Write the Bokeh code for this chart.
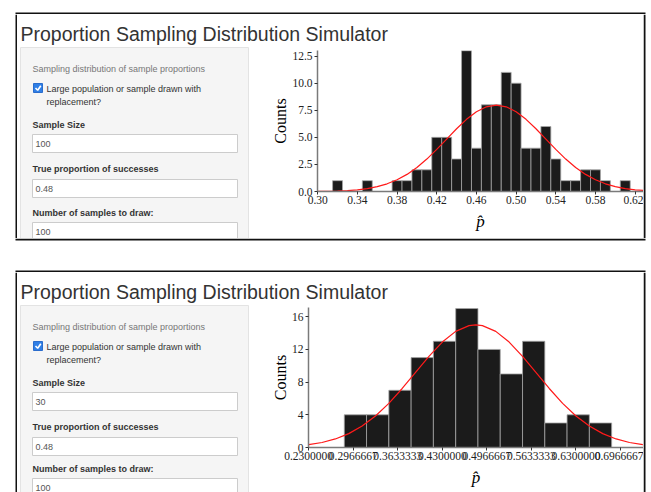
from bokeh.plotting import figure
from bokeh.layouts import column, row
from bokeh.models import Range1d, FixedTicker
from bokeh.embed import file_html
from bokeh.resources import INLINE
from bokeh.core.properties import value

# ---------------- texts ----------------
TITLE = "Proportion Sampling Distribution Simulator"
sidebar_heading = "Sampling distribution of sample proportions"
checkbox_lines = ["Large population or sample drawn with", "replacement?"]
field_labels = ["Sample Size", "True proportion of successes", "Number of samples to draw:"]
top_inputs = ["100", "0.48", "100"]
bottom_inputs = ["30", "0.48", "100"]

# ---------------- top histogram (n = 100) ----------------
top_centers = [0.32, 0.35, 0.38, 0.39, 0.40, 0.41, 0.42, 0.43, 0.44, 0.45, 0.46,
               0.47, 0.48, 0.49, 0.50, 0.51, 0.52, 0.53, 0.54, 0.55, 0.56, 0.57,
               0.58, 0.59, 0.60, 0.61]
top_counts = [1, 1, 1, 1, 2, 2, 5, 5, 3, 13, 4,
              8, 8, 11, 10, 4, 4, 6, 3, 1, 1, 2,
              2, 1, 0, 1]
top_bin_width = 0.01
top_curve_x = [0.30, 0.31, 0.32, 0.33, 0.34, 0.35, 0.36, 0.37, 0.38, 0.39, 0.40,
               0.41, 0.42, 0.43, 0.44, 0.45, 0.46, 0.47, 0.48, 0.49, 0.50, 0.51,
               0.52, 0.53, 0.54, 0.55, 0.56, 0.57, 0.58, 0.59, 0.60, 0.61, 0.62, 0.63]
top_curve_y = [0.012, 0.025, 0.048, 0.089, 0.158, 0.271, 0.448, 0.710, 1.080, 1.579, 2.218,
               2.995, 3.885, 4.840, 5.794, 6.666, 7.366, 7.822, 7.980, 7.822, 7.366, 6.666,
               5.794, 4.840, 3.885, 2.995, 2.218, 1.579, 1.080, 0.710, 0.448, 0.271, 0.158, 0.089]
top_xticks = [0.30, 0.34, 0.38, 0.42, 0.46, 0.50, 0.54, 0.58, 0.62]
top_xtick_labels = ["0.30", "0.34", "0.38", "0.42", "0.46", "0.50", "0.54", "0.58", "0.62"]
top_yticks = [0, 2.5, 5, 7.5, 10, 12.5]
top_ytick_labels = ["0.0", "2.5", "5.0", "7.5", "10.0", "12.5"]

# ---------------- bottom histogram (n = 30) ----------------
bot_centers = [0.3000, 0.3333, 0.3667, 0.4000, 0.4333, 0.4667,
               0.5000, 0.5333, 0.5667, 0.6000, 0.6333, 0.6667]
bot_counts = [4, 4, 7, 11, 13, 17, 12, 9, 13, 3, 4, 3]
bot_bin_width = 0.03333
bot_curve_x = [0.23, 0.25, 0.27, 0.29, 0.31, 0.33, 0.35, 0.37, 0.39, 0.41, 0.43, 0.45, 0.47,
               0.48, 0.49, 0.51, 0.53, 0.55, 0.57, 0.59, 0.61, 0.63, 0.65, 0.67, 0.69, 0.71, 0.73]
bot_curve_y = [0.345, 0.615, 1.046, 1.70, 2.62, 3.86, 5.40, 7.22, 9.20, 11.16, 12.90, 14.21, 14.91,
               15.0, 14.91, 14.21, 12.90, 11.16, 9.20, 7.22, 5.40, 3.86, 2.62, 1.70, 1.046, 0.615, 0.345]
bot_xticks = [0.23, 0.2966667, 0.3633333, 0.43, 0.4966667, 0.5633333, 0.63, 0.6966667]
bot_xtick_labels = ["0.2300000", "0.2966667", "0.3633333", "0.4300000",
                    "0.4966667", "0.5633333", "0.6300000", "0.6966667"]
bot_yticks = [0, 4, 8, 12, 16]
bot_ytick_labels = ["0", "4", "8", "12", "16"]

SANS = "Liberation Sans"
SERIF = "Liberation Serif"
BORDER = "#111111"


def bare(width, height):
    p = figure(width=width, height=height, x_range=Range1d(0, width),
               y_range=Range1d(height, 0), frame_align=False, title=None,
               output_backend="svg", toolbar_location=None, min_border=0)
    p.axis.visible = False
    p.grid.visible = False
    p.outline_line_color = None
    p.background_fill_color = "white"
    p.border_fill_color = "white"
    return p


def band(width, height, rects):
    """White strip carrying the black frame lines of the two screenshots."""
    p = bare(width, height)
    p.quad(left=[r[0] for r in rects], right=[r[1] for r in rects],
           top=[r[2] for r in rects], bottom=[r[3] for r in rects],
           fill_color=BORDER, line_color=None)
    return p


def make_title():
    p = bare(626, 32)
    p.text(x=[3], y=[19], text=[TITLE], text_font=value(SANS), text_font_size="19.5px",
           text_baseline="alphabetic", text_color="#333333")
    return p


def make_sidebar(h, inputs, last_shift=0):
    p = bare(243, h)
    p.quad(left=[3], right=[231], top=[1], bottom=[h + 10], fill_color="#f5f5f5",
           line_color="#e3e3e3", line_width=1)
    p.text(x=[15], y=[22], text=[sidebar_heading], text_font=value(SANS), text_font_size="9px",
           text_baseline="middle", text_color="#777777")
    # checkbox
    p.quad(left=[16], right=[25], top=[37], bottom=[46], fill_color="#2f7fe6", line_color="#2a6ccc")
    p.line(x=[18, 20.2, 23.3], y=[41.5, 43.8, 39.2], line_color="white", line_width=1.6)
    p.text(x=[29, 29], y=[42, 55], text=checkbox_lines, text_font=value(SANS), text_font_size="9px",
           text_baseline="middle", text_color="#333333")
    label_y = [78, 122, 166 - last_shift]
    box_top = [88, 133, 176 - last_shift]
    p.text(x=[15] * 3, y=label_y, text=field_labels, text_font=value(SANS), text_font_size="9px",
           text_font_style="bold", text_baseline="middle", text_color="#333333")
    p.quad(left=[15] * 3, right=[220] * 3, top=box_top, bottom=[t + 18 for t in box_top],
           fill_color="white", line_color="#cccccc", line_width=1)
    p.text(x=[18] * 3, y=[t + 9 for t in box_top], text=inputs, text_font=value(SANS),
           text_font_size="9px", text_baseline="middle", text_color="#555555")
    return p


def make_hist(h, centers, counts, bw, cx, cy, xr, yr, xticks, xlabels, yticks, ylabels,
              left, right, top, bottom):
    p = figure(width=383, height=h, x_range=Range1d(*xr), y_range=Range1d(*yr),
               frame_align=False, title=None, output_backend="svg", toolbar_location=None,
               min_border_left=left, min_border_right=right,
               min_border_top=top, min_border_bottom=bottom)
    p.grid.visible = False
    p.outline_line_color = None
    p.vbar(x=centers, top=counts, bottom=0, width=bw, fill_color="#1b1b1b",
           line_color="#a6a6a6", line_width=0.8)
    p.line(x=cx, y=cy, line_color="#ff1a1a", line_width=1.2)

    p.xaxis.ticker = FixedTicker(ticks=xticks)
    p.xaxis.major_label_overrides = dict(zip(xticks, xlabels))
    p.yaxis.ticker = FixedTicker(ticks=yticks)
    p.yaxis.major_label_overrides = dict(zip(yticks, ylabels))
    for ax in (p.xaxis[0], p.yaxis[0]):
        ax.axis_line_color = "#7a7a7a"
        ax.axis_line_width = 1.5
        ax.major_tick_line_color = "#333333"
        ax.major_tick_out = 3
        ax.major_tick_in = 0
        ax.minor_tick_line_color = None
        ax.major_label_text_font = SERIF
        ax.major_label_text_font_size = "11.5px"
        ax.major_label_text_color = "#222222"
        ax.axis_label_text_font = SERIF
        ax.axis_label_text_color = "#000000"
    p.yaxis.axis_label = "Counts"
    p.yaxis.axis_label_text_font_size = "16px"
    p.yaxis.axis_label_text_font_style = "normal"
    p.yaxis.axis_label_standoff = 0
    p.yaxis.major_label_standoff = 2
    p.xaxis.axis_label = "p\u0302"
    p.xaxis.axis_label_text_font_size = "17px"
    p.xaxis.axis_label_text_font_style = "italic"
    p.xaxis.axis_label_standoff = 5
    p.xaxis.major_label_standoff = 1
    return p


# ----- top screenshot: frame y 12..240, x 15..645 -----
title1 = make_title()
side1 = make_sidebar(192, top_inputs)
hist1 = make_hist(192, top_centers, top_counts, top_bin_width, top_curve_x, top_curve_y,
                  (0.2998, 0.6284), (0, 13.02), top_xticks, top_xtick_labels,
                  top_yticks, top_ytick_labels, 57, 0, 4, 47)
content1 = column(title1, row(side1, hist1))

# ----- bottom screenshot: frame from y 270, cut off by the window -----
title2 = make_title()
side2 = make_sidebar(188, bottom_inputs, last_shift=2)
hist2 = make_hist(188, bot_centers, bot_counts, bot_bin_width, bot_curve_x, bot_curve_y,
                  (0.2298, 0.731), (0, 17.13), bot_xticks, bot_xtick_labels,
                  bot_yticks, bot_ytick_labels, 48, 0, 3, 45)
content2 = column(title2, row(side2, hist2))

root = column(
    band(651, 14, [(15, 645, 12, 14)]),
    row(band(17, 224, [(15, 17, 0, 224)]), content1, band(8, 224, [(0, 2, 0, 224)])),
    band(651, 34, [(15, 645, 0, 2), (15, 645, 32, 34)]),
    row(band(17, 220, [(15, 17, 0, 220)]), content2, band(8, 220, [(0, 2, 0, 220)])),
)

open("out.html", "w").write(file_html(root, INLINE))
